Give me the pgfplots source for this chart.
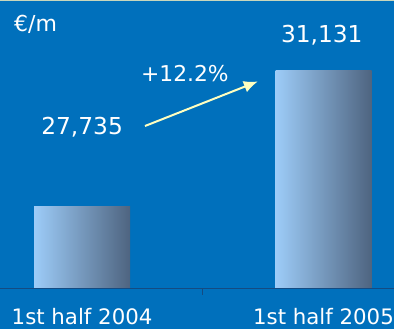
\documentclass[border=0pt]{standalone}
\usepackage{fontspec}
\setmainfont{DejaVu Sans}
\usepackage{pgfplots}
\pgfplotsset{compat=1.18}
\usetikzlibrary{arrows.meta}
\definecolor{bg}{RGB}{0,112,188}
\definecolor{topline}{RGB}{200,214,188}
\definecolor{axisblue}{RGB}{20,75,130}
\definecolor{barL}{RGB}{157,204,248}
\definecolor{barM}{RGB}{124,157,192}
\definecolor{barR}{RGB}{78,100,128}
\definecolor{arrowc}{RGB}{255,255,192}
\begin{document}
\begin{tikzpicture}
\useasboundingbox (0,-40pt) rectangle (394pt,289pt);
\fill[bg] (0,-40pt) rectangle (394pt,289pt);
\fill[topline] (0,288pt) rectangle (394pt,289pt);
\begin{axis}[
  at={(0,0)}, anchor=south west,
  scale only axis,
  width=394pt, height=289pt,
  xmin=-0.34, xmax=1.292,
  ymin=25663, ymax=32879,
  hide y axis,
  axis x line*=bottom,
  x axis line style={color=axisblue, line width=1pt},
  axis on top,
  xtick={0,1},
  xticklabels={1st half 2004, 1st half 2005},
  major tick length=0pt,
  extra x ticks={0.5},
  extra x tick labels={},
  extra x tick style={major tick length=6pt, tick align=outside, tick style={color=axisblue, line width=0.8pt}},
  xticklabel style={anchor=base, yshift=-36pt, inner sep=0pt, text=white, font=\fontsize{21.3}{25}\selectfont},
]
\addplot[ybar, bar width=96pt, bar shift=0pt, draw=none, left color=barL, middle color=barM, right color=barR]
  coordinates {(0,27735)};
\addplot[ybar, bar width=96pt, bar shift=0pt, draw=none, left color=barL, middle color=barM, right color=barR]
  coordinates {(1,31131)};
\node[anchor=base, text=white, font=\fontsize{23.3}{28}\selectfont, inner sep=0pt] at (axis cs:0,29533) {27,735};
\node[anchor=base, text=white, font=\fontsize{23.3}{28}\selectfont, inner sep=0pt] at (axis cs:0.993,31830) {31,131};
\node[anchor=base, text=white, font=\fontsize{21.8}{26}\selectfont, inner sep=0pt] at (axis cs:0.426,30832) {+12.2\%};
\node[anchor=base west, text=white, font=\fontsize{22}{26}\selectfont, inner sep=0pt] at (axis cs:-0.282,32080) {€/m};
\draw[arrowc, line width=2pt, -{Latex[length=14pt,width=12pt]}] (axis cs:0.2607,29733) -- (axis cs:0.728,30845);
\end{axis}
\end{tikzpicture}
\end{document}
